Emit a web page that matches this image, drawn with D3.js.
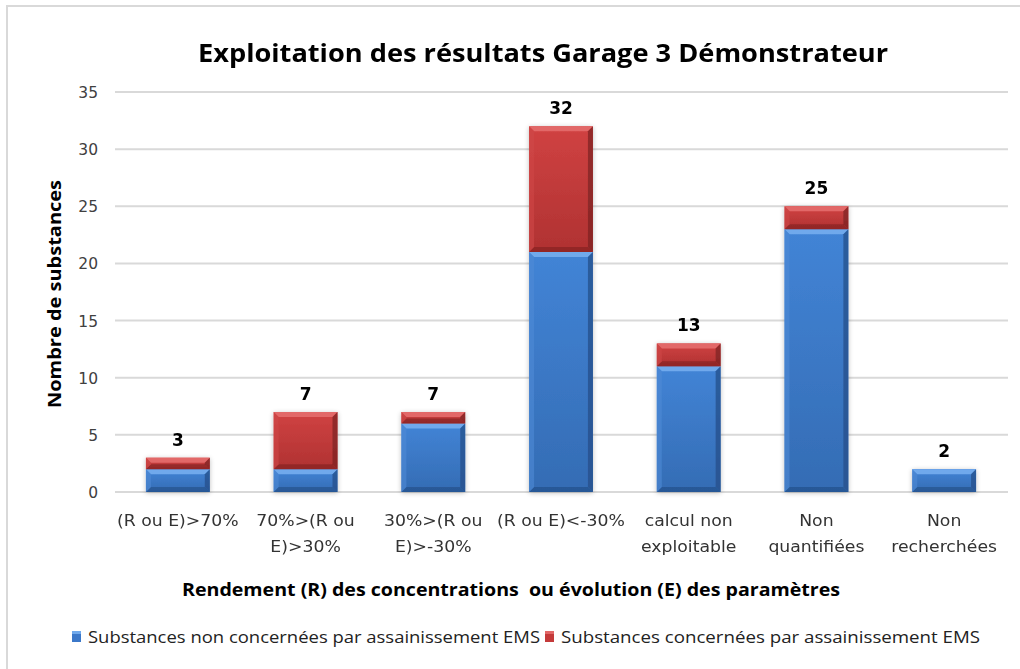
<!DOCTYPE html>
<html><head><meta charset="utf-8">
<script src="https://cdn.jsdelivr.net/npm/d3@7"></script>
<style>body{margin:0;background:#fff}svg{display:block}</style>
</head><body>
<svg id="c" width="1020" height="669"></svg>
<script>
const categories = [["(R ou E)>70%"],["70%>(R ou","E)>30%"],["30%>(R ou","E)>-30%"],["(R ou E)<-30%"],["calcul non","exploitable"],["Non","quantifiées"],["Non","recherchées"]];
const nonConcernees = [2, 2, 6, 21, 11, 23, 2];
const concernees = [1, 5, 1, 11, 2, 2, 0];
const yTicks = [0, 5, 10, 15, 20, 25, 30, 35];
const seriesNames = ["Substances non concernées par assainissement EMS", "Substances concernées par assainissement EMS"];

const svg = d3.select("#c");
svg.append("rect").attr("x",7).attr("y",6).attr("width",1100).attr("height",800)
  .attr("fill","#fff").attr("stroke","#d9d9d9").attr("stroke-width",2);

const L=114, R=1008, T=92, B=492;
const x = d3.scaleBand().domain(d3.range(categories.length)).range([L,R]).paddingInner(0.5).paddingOuter(0.25);
const y = d3.scaleLinear().domain([0,35]).range([B,T]);

// gridlines
svg.append("g").selectAll("line").data(yTicks).join("line")
  .attr("x1",L+1).attr("x2",R).attr("y1",d=>y(d)).attr("y2",d=>y(d))
  .attr("stroke","#d9d9d9").attr("stroke-width",2);

// y axis labels
const yAxis = d3.axisLeft(y).tickValues(yTicks).tickSize(0).tickPadding(0);
const ga = svg.append("g").attr("transform",`translate(${L-16},0)`).call(yAxis);
ga.select(".domain").remove();
ga.selectAll("text").attr("font-family","DejaVu Sans").attr("font-size",15.5).attr("fill","#404040").attr("dy","0.35em");

const defs = svg.append("defs");
const f = defs.append("filter").attr("id","sh").attr("x","-20%").attr("y","-20%").attr("width","140%").attr("height","140%");
f.append("feGaussianBlur").attr("in","SourceAlpha").attr("stdDeviation",2.5);
f.append("feOffset").attr("dx",0).attr("dy",1).attr("result","o");
f.append("feComponentTransfer").append("feFuncA").attr("type","linear").attr("slope",0.25);
const fm = f.append("feMerge"); fm.append("feMergeNode"); fm.append("feMergeNode").attr("in","SourceGraphic");

const palettes = [
  {base:"#3b78c9", top:"#6fa9ec", bottom:"#224c84", left:"#4f8ad6", right:"#254f8a", g1:"#4284d6", g2:"#346cb4"},
  {base:"#c43a3a", top:"#e26767", bottom:"#7e2222", left:"#cf4747", right:"#7f2424", g1:"#d04242", g2:"#b03232"}
];
palettes.forEach((p,i)=>{
  const g = defs.append("linearGradient").attr("id","g"+i).attr("x1",0).attr("y1",0).attr("x2",0).attr("y2",1);
  g.append("stop").attr("offset","0%").attr("stop-color",p.g1);
  g.append("stop").attr("offset","100%").attr("stop-color",p.g2);
});

function drawBar(g, x0, w, yTop, yBot, p, gid){
  const h = yBot - yTop; if (h<=0) return;
  const b = Math.min(5, h/2);
  const x1 = x0 + w;
  g.append("rect").attr("x",x0).attr("y",yTop).attr("width",w).attr("height",h).attr("fill",`url(#${gid})`);
  g.append("polygon").attr("points",`${x0},${yTop} ${x1},${yTop} ${x1-b},${yTop+b} ${x0+b},${yTop+b}`).attr("fill",p.top);
  g.append("polygon").attr("points",`${x0},${yBot} ${x1},${yBot} ${x1-b},${yBot-b} ${x0+b},${yBot-b}`).attr("fill",p.bottom).attr("opacity",0.6);
  g.append("polygon").attr("points",`${x0},${yTop} ${x0+b},${yTop+b} ${x0+b},${yBot-b} ${x0},${yBot}`).attr("fill",p.left).attr("opacity",0.6);
  g.append("polygon").attr("points",`${x1},${yTop} ${x1-b},${yTop+b} ${x1-b},${yBot-b} ${x1},${yBot}`).attr("fill",p.right).attr("opacity",0.75);
}

const bars = svg.append("g").attr("filter","url(#sh)");
categories.forEach((c,i)=>{
  const x0 = x(i), w = x.bandwidth();
  const bg = bars.append("g");
  drawBar(bg, x0, w, y(nonConcernees[i]), y(0), palettes[0], "g0");
  drawBar(bg, x0, w, y(nonConcernees[i]+concernees[i]), y(nonConcernees[i]), palettes[1], "g1");
});

// totals
svg.append("g").selectAll("text").data(categories.map((c,i)=>nonConcernees[i]+concernees[i])).join("text")
  .attr("x",(d,i)=>x(i)+x.bandwidth()/2).attr("y",d=>y(d)-12)
  .attr("text-anchor","middle").attr("font-family","DejaVu Sans").attr("font-weight","bold")
  .attr("font-size",17).attr("fill","#000").text(d=>d);

// category labels
const cl = svg.append("g");
categories.forEach((lines,i)=>{
  lines.forEach((t,j)=>{
    const tx = cl.append("text").attr("x",x(i)+x.bandwidth()/2).attr("y",526+j*26)
      .attr("text-anchor","middle").attr("font-family","DejaVu Sans").attr("font-size",15)
      .attr("fill","#333").text(t);
    const len = tx.node().getComputedTextLength();
    tx.attr("textLength",len*1.15).attr("lengthAdjust","spacingAndGlyphs");
  });
});

// title
svg.append("text").attr("x",543).attr("y",62).attr("text-anchor","middle")
  .attr("font-family","Open Sans").attr("font-weight","bold").attr("font-size",25)
  .attr("textLength",690).attr("lengthAdjust","spacingAndGlyphs").attr("fill","#000")
  .text("Exploitation des résultats Garage 3 Démonstrateur");

// y title
svg.append("text").attr("transform","translate(61,294) rotate(-90)").attr("text-anchor","middle")
  .attr("font-family","Open Sans").attr("font-weight","bold").attr("font-size",18)
  .attr("textLength",228).attr("lengthAdjust","spacingAndGlyphs").attr("fill","#000")
  .text("Nombre de substances");

// x title
svg.append("text").attr("x",511).attr("y",596).attr("text-anchor","middle")
  .attr("font-family","Open Sans").attr("font-weight","bold").attr("font-size",18)
  .attr("textLength",658).attr("lengthAdjust","spacingAndGlyphs").attr("fill","#000")
  .attr("xml:space","preserve")
  .text("Rendement (R) des concentrations  ou évolution (E) des paramètres");

// legend
const leg = [{x:72, tx:88, tl:452},{x:545, tx:561, tl:419}];
leg.forEach((l,i)=>{
  const p = palettes[i];
  const lg = svg.append("g");
  lg.append("rect").attr("x",l.x).attr("y",631).attr("width",9).attr("height",11).attr("fill",p.base);
  lg.append("rect").attr("x",l.x).attr("y",631).attr("width",9).attr("height",3).attr("fill",p.top);
  lg.append("text").attr("x",l.tx).attr("y",643).attr("font-family","Open Sans").attr("font-size",16)
    .attr("textLength",l.tl).attr("lengthAdjust","spacingAndGlyphs").attr("fill","#222").text(seriesNames[i]);
});
</script>
</body></html>
